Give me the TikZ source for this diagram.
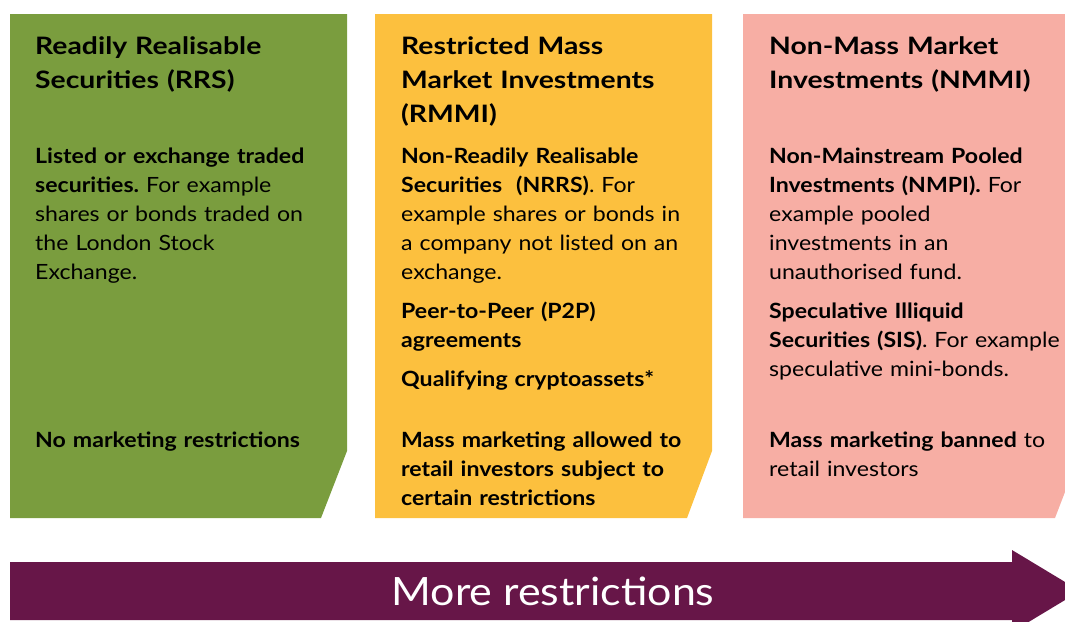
\documentclass[tikz,border=0pt]{standalone}
\usepackage{fontspec}
\setmainfont{Lato}[FakeStretch=1.1]
\newfontfamily\headfont{Lato}[FakeStretch=1.18]
\frenchspacing
\definecolor{rrsgreen}{RGB}{122,157,62}
\definecolor{rmmiyellow}{RGB}{252,192,62}
\definecolor{nmmipink}{RGB}{247,174,164}
\definecolor{arrowpurple}{RGB}{103,22,72}
\begin{document}
\begin{tikzpicture}[x=1pt,y=-1pt,
  head/.style={anchor=base west,inner sep=0pt,text width=320pt,align=left,font=\headfont\fontsize{24}{34}\selectfont\bfseries},
  body/.style={anchor=base west,inner sep=0pt,text width=320pt,align=left,font=\fontsize{21}{29}\selectfont}]
\useasboundingbox (0,0) rectangle (1065,621);
\clip (0,0) rectangle (1065,621);
% panels
\fill[rrsgreen] (10,14) -- (347,14) -- (347,451) -- (321,518) -- (10,518) -- cycle;
\fill[rmmiyellow] (375,14) -- (712,14) -- (712,451) -- (687,518) -- (375,518) -- cycle;
\fill[nmmipink] (743,14) -- (1065,14) -- (1065,492) -- (1055,518) -- (743,518) -- cycle;
% green
\node[head] (g1) at (35,54) {Readily Realisable\\Securities (RRS)};
\node[body] (g2) at (35,163) {\textbf{Listed or exchange traded}\\\textbf{securities.} For example\\shares or bonds traded on\\the London Stock\\Exchange.};
\node[body] (g3) at (35,447) {\textbf{No marketing restrictions}};
% yellow
\node[head] (y1) at (401,54) {Restricted Mass\\Market Investments\\(RMMI)};
\node[body] (y2) at (401,163) {\textbf{Non-Readily Realisable}\\\textbf{Securities\ \ (NRRS)}. For\\example shares or bonds in\\a company not listed on an\\exchange.};
\node[body] (y3) at (401,318) {\textbf{Peer-to-Peer (P2P)}\\\textbf{agreements}};
\node[body] (y4) at (401,386) {\textbf{Qualifying cryptoassets*}};
\node[body] (y5) at (401,447) {\textbf{Mass marketing allowed to}\\\textbf{retail investors subject to}\\\textbf{certain restrictions}};
% pink
\node[head] (p1) at (769,54) {Non-Mass Market\\Investments (NMMI)};
\node[body] (p2) at (769,163) {\textbf{Non-Mainstream Pooled}\\\textbf{Investments (NMPI).} For\\example pooled\\investments in an\\unauthorised fund.};
\node[body] (p3) at (769,318) {\textbf{Speculative Illiquid}\\\textbf{Securities (SIS)}. For example\\speculative mini-bonds.};
\node[body] (p4) at (769,447) {\textbf{Mass marketing banned} to\\retail investors};
% arrow
\fill[arrowpurple] (10,562) -- (1012,562) -- (1012,550) -- (1080,591) -- (1012,632) -- (1012,620) -- (10,620) -- cycle;
\node[text=white,font=\fontsize{39}{39}\selectfont] (more) at (553,591) {More restrictions};
\end{tikzpicture}
\end{document}
